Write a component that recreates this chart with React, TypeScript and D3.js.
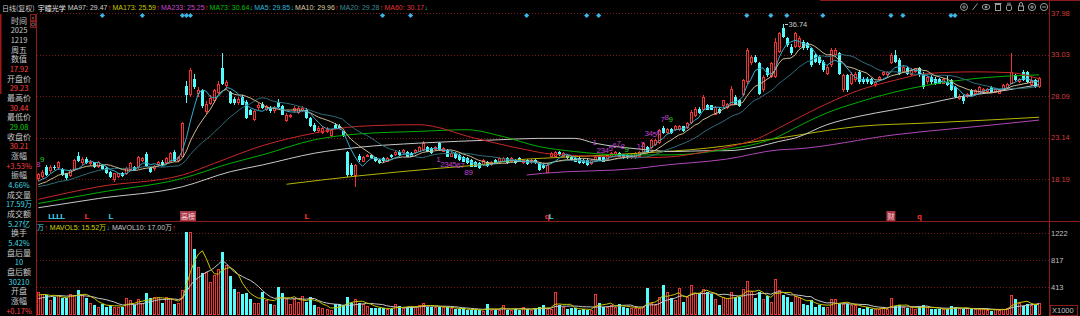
import React, { useEffect } from 'react';
import * as d3 from 'd3';

// ---------------- DATA ----------------
const opens = [
  18.2,18.5,19.7,19.2,19.7,19.5,19.4,18.9,18.6,19.3,
  21.0,20.1,20.6,20.0,20.2,19.6,19.9,19.5,19.1,18.1,
  18.5,18.9,18.8,19.3,19.7,19.5,20.4,21.2,19.5,19.4,
  19.9,20.3,20.1,20.3,21.5,20.4,20.9,29.3,28.2,30.2,
  28.3,28.8,26.2,27.2,27.5,28.5,31.4,29.3,28.6,27.8,
  27.3,28.0,27.4,26.4,25.3,26.7,27.2,26.5,26.7,26.3,
  27.4,26.9,25.1,25.6,26.3,26.1,26.3,26.5,25.5,24.7,
  23.9,23.7,23.8,23.3,24.7,24.6,23.9,21.5,19.9,18.6,
  21.0,20.3,20.9,21.1,20.8,20.5,20.7,20.3,21.1,21.1,
  21.5,21.3,21.5,21.3,21.3,21.5,21.7,22.1,21.9,21.7,
  22.5,21.5,21.7,20.9,21.3,21.1,20.9,20.7,20.5,20.3,
  20.1,19.9,20.3,19.9,20.5,20.3,20.3,20.7,20.3,20.5,
  20.7,20.1,20.5,20.1,20.5,20.1,19.9,19.0,20.9,20.9,
  21.5,20.9,21.1,20.9,20.7,20.7,20.5,20.5,20.0,20.3,
  20.9,20.9,20.5,20.9,21.1,21.3,21.1,21.1,20.7,20.7,
  20.9,21.3,22.1,21.9,22.3,22.5,24.3,23.7,24.2,24.1,
  24.1,24.5,24.3,24.9,25.7,26.6,26.4,27.0,27.0,25.9,
  26.6,26.9,26.7,27.1,28.0,27.6,28.2,29.8,32.0,32.8,
  32.0,28.8,31.4,30.4,30.4,33.4,36.2,35.0,34.0,34.0,
  34.0,34.6,34.4,33.8,33.0,32.8,32.2,30.8,31.8,33.0,
  33.2,28.8,30.6,29.6,30.0,31.0,30.2,30.2,30.2,29.4,
  30.0,30.6,30.6,32.0,33.0,32.4,31.0,31.4,30.6,31.0,
  31.4,30.8,29.8,30.4,30.2,30.2,29.6,29.8,30.0,29.2,
  27.8,28.0,28.0,28.8,28.4,28.4,28.6,28.6,29.2,28.6,
  28.4,28.8,29.0,29.6,30.6,29.8,31.0,31.0,29.4,30.0,29.23,
];
const highs = [
  19.0,19.3,19.9,19.9,19.9,20.4,19.5,19.0,19.4,20.6,
  21.4,20.8,20.9,20.5,20.3,20.4,20.0,19.6,19.2,19.0,
  19.0,19.1,19.6,20.2,19.8,21.0,20.9,21.5,19.7,19.9,
  20.4,20.5,20.8,21.4,21.7,21.0,25.0,29.9,31.5,30.8,
  29.2,29.0,27.5,28.2,29.0,29.9,33.2,30.0,28.7,28.0,
  28.0,28.2,27.6,26.6,26.5,27.3,27.4,27.1,26.9,26.9,
  27.8,27.0,26.1,26.0,26.9,26.9,26.9,26.7,25.6,24.9,
  24.5,24.5,24.4,24.2,24.9,24.8,24.0,21.6,20.1,20.0,
  21.2,21.0,21.2,21.2,20.9,20.6,20.8,20.8,21.2,21.6,
  21.7,21.8,21.6,21.4,21.8,22.2,22.7,22.2,22.0,22.2,
  22.6,22.0,21.8,21.4,21.4,21.2,21.0,20.8,20.6,20.4,
  20.2,20.6,20.4,20.4,20.6,20.8,20.8,20.8,20.8,20.6,
  20.8,20.6,20.6,20.6,20.6,20.2,20.0,20.0,21.4,21.6,
  21.6,21.4,21.2,21.0,20.8,20.8,20.6,20.6,20.6,21.0,
  21.0,21.0,21.2,21.4,21.6,21.4,21.2,21.2,21.2,21.4,
  21.6,22.6,22.2,23.0,23.0,24.2,24.5,24.3,24.3,24.7,
  24.7,24.6,25.0,26.4,26.8,26.8,28.2,27.2,27.1,26.9,
  26.8,27.7,27.3,29.3,28.2,27.8,30.2,33.8,33.0,33.0,
  32.2,30.6,31.6,32.2,35.0,35.8,36.74,35.2,34.3,35.8,
  35.3,34.8,34.6,34.0,33.2,33.0,32.4,31.8,33.8,33.8,
  33.4,30.8,30.8,31.0,31.0,31.2,30.4,30.4,30.3,29.9,
  30.5,31.1,31.1,33.2,33.6,32.6,31.8,31.6,31.4,31.5,
  31.6,31.0,30.5,30.6,30.4,30.3,30.3,30.6,30.2,29.3,
  28.3,28.2,28.5,29.0,28.9,29.3,29.1,29.1,29.3,29.1,
  28.9,29.5,29.7,33.2,30.8,30.3,31.2,31.1,30.5,30.1,30.44,
];
const lows = [
  18.0,18.3,18.6,19.0,19.3,19.3,18.6,18.1,18.5,19.2,
  20.2,19.9,20.0,19.8,19.5,19.5,19.3,18.8,18.4,17.9,
  18.3,18.5,18.7,19.2,19.2,19.4,20.2,19.6,18.9,19.2,
  19.7,19.8,20.0,20.2,20.3,20.3,20.8,27.3,28.0,29.0,
  28.0,26.7,26.0,27.0,27.3,28.3,29.4,29.0,27.2,27.1,
  27.1,27.0,25.4,25.8,25.1,26.5,26.6,26.3,26.1,26.1,
  26.7,25.8,25.0,25.5,26.1,26.0,26.2,25.4,24.4,23.8,
  23.7,23.6,23.7,23.2,24.2,24.2,23.2,18.5,18.6,17.3,
  20.2,20.2,20.8,20.6,20.3,20.0,20.3,20.2,20.7,21.0,
  21.0,21.2,20.8,20.8,21.2,21.4,21.6,21.4,21.2,21.6,
  21.6,21.4,20.8,20.8,20.6,20.4,20.2,20.0,19.6,19.6,
  19.4,19.8,19.7,19.8,20.0,20.2,20.2,20.0,20.2,20.0,
  20.2,20.0,19.9,20.0,20.0,19.2,19.4,18.9,20.8,20.8,
  21.0,20.8,20.6,20.4,20.2,20.0,20.0,19.8,19.9,20.2,
  20.4,20.2,20.4,20.8,21.0,20.8,20.6,20.6,20.6,20.6,
  20.8,21.2,21.4,21.8,22.2,22.4,23.6,23.6,23.6,24.0,
  24.0,23.8,24.2,24.8,25.6,26.0,26.3,26.4,26.4,25.8,
  26.0,26.8,26.6,27.0,27.0,26.8,28.1,29.6,31.8,32.1,
  28.2,28.6,30.4,30.3,30.3,33.2,35.0,34.0,33.0,33.9,
  33.8,33.6,33.6,31.6,32.0,31.8,31.0,30.6,31.6,32.8,
  30.6,28.6,28.6,29.4,29.8,29.6,29.6,29.6,29.4,29.2,
  29.9,30.5,30.5,31.9,32.0,30.6,30.9,30.6,30.5,30.9,
  30.4,29.0,29.6,29.6,29.4,29.5,29.5,29.3,28.7,27.9,
  27.6,27.2,27.9,28.1,28.3,28.3,28.5,28.5,28.5,28.5,
  28.3,28.7,28.9,29.5,29.9,29.7,29.9,29.7,29.3,29.1,29.08,
];
const closes = [
  18.8,19.1,18.7,19.7,19.5,20.2,18.7,18.3,19.3,20.5,
  20.4,20.6,20.1,20.3,19.6,20.3,19.4,18.9,18.5,18.9,
  18.9,18.6,19.5,20.1,19.3,20.9,20.7,19.7,19.1,19.8,
  20.3,19.9,20.7,21.3,20.4,20.9,24.9,28.2,31.2,29.2,
  28.8,26.9,27.2,27.9,28.8,29.6,29.6,29.8,27.3,27.3,
  27.8,27.1,25.5,25.9,26.3,27.1,26.7,26.9,26.3,26.7,
  26.8,25.9,25.9,25.8,26.7,26.7,26.7,25.5,24.5,23.9,
  24.3,24.3,24.2,24.1,24.3,24.3,23.3,18.7,18.7,19.9,
  20.5,20.9,21.1,20.7,20.4,20.1,20.4,20.7,20.8,21.5,
  21.1,21.7,20.9,20.9,21.7,22.1,22.5,21.5,21.3,22.1,
  21.7,21.9,20.9,21.3,20.7,20.5,20.3,20.1,19.7,19.7,
  19.5,20.5,19.8,20.3,20.1,20.7,20.7,20.1,20.7,20.1,
  20.3,20.5,20.0,20.5,20.1,19.3,19.5,19.9,21.3,21.5,
  21.1,21.3,20.7,20.5,20.3,20.1,20.1,19.9,20.5,20.9,
  20.5,20.3,21.1,21.3,21.5,20.9,20.7,20.7,21.1,21.3,
  21.5,22.5,21.5,22.9,22.9,24.1,23.7,24.2,23.7,24.6,
  24.6,23.9,24.9,26.2,26.6,26.1,28.0,26.5,26.5,26.8,
  26.1,27.6,27.2,29.0,27.1,26.9,30.0,33.6,32.8,32.2,
  28.4,30.4,30.6,32.0,34.6,35.6,35.2,34.2,33.2,35.6,
  35.0,33.8,33.8,31.8,32.2,32.0,31.2,31.6,33.6,33.6,
  30.8,30.6,28.8,30.8,30.8,29.8,29.8,29.8,29.6,29.8,
  30.4,31.0,31.0,33.0,32.2,30.8,31.6,30.8,31.2,31.4,
  30.6,29.2,30.4,29.8,29.6,29.6,30.2,29.4,28.8,28.0,
  28.1,27.5,28.4,28.2,28.8,29.2,29.0,29.0,28.6,29.0,
  28.8,29.4,29.6,31.0,30.0,30.2,30.0,29.8,30.05,29.18,30.21,
];
// volume in thousands of shares
const volumes = [
  347,320,298,224,273,298,249,249,320,298,
  372,298,249,174,150,124,164,124,149,124,
  124,124,248,224,149,233,174,323,248,273,
  263,174,273,248,164,174,372,1240,1235,978,
  710,621,646,497,596,681,944,745,581,382,
  348,313,333,233,184,184,348,224,164,149,
  412,323,233,164,233,199,283,199,263,149,
  114,99,85,75,159,159,149,263,184,233,
  184,164,134,99,99,99,99,85,85,159,
  134,99,124,124,134,149,174,124,124,124,
  124,114,114,99,85,85,99,75,75,75,
  75,65,159,75,75,75,149,75,75,85,
  75,124,85,75,99,114,149,85,95,348,
  149,114,85,99,99,75,85,75,75,313,
  174,124,124,149,124,159,124,99,99,99,
  99,124,397,184,149,263,447,348,248,224,
  397,199,273,447,333,333,387,348,313,233,
  149,273,248,348,263,263,387,512,353,248,
  348,233,283,199,532,373,298,273,199,283,
  263,164,149,224,124,149,114,124,233,233,
  164,164,164,149,149,99,85,114,85,85,
  85,124,85,248,134,149,114,99,114,85,
  114,149,124,85,85,85,85,85,134,124,
  99,85,99,85,85,85,85,75,65,85,
  75,95,100,305,240,184,140,160,150,150,176,
];
// closes / volumes just before the visible window (for the short moving averages)
const prevCloses = [17.0,17.2,16.9,17.1,17.3,17.0,16.8,17.1,17.2,17.0,17.3,17.1,16.9,17.2,17.4,17.6,17.8,17.5,17.9];
const prevVolumes = [180,200,170,190,210,280,300,290,270];

// long moving averages: [bar index, value]
const ma60Pts: [number, number][] = [[0,15.8],[15,17.3],[36,18.7],[44,20.1],[56,22.2],[69,23.7],[80,24.5],[95,24.7],[109,23.1],[122,21.7],[128,21.2],[142,20.9],[155,20.8],[167,21.5],[172,22.0],[180,23.1],[185,24.3],[189,25.3],[197,27.2],[205,28.8],[214,30.0],[222,30.8],[234,31.0],[243,30.9],[250,30.17]];
const ma73Pts: [number, number][] = [[0,15.3],[15,16.6],[36,18.3],[48,20.1],[56,21.1],[69,22.9],[80,23.6],[95,23.9],[107,24.1],[116,23.3],[125,22.1],[134,21.5],[146,21.1],[158,21.1],[171,21.7],[180,22.5],[185,23.3],[189,24.3],[197,26.1],[205,27.4],[214,28.6],[222,29.4],[234,30.2],[250,30.64]];
const ma97Pts: [number, number][] = [[0,14.8],[15,15.9],[36,17.3],[48,19.1],[56,19.9],[69,21.3],[80,22.0],[95,22.5],[115,22.9],[125,23.07],[134,23.07],[139,22.5],[150,21.8],[159,21.5],[167,21.6],[172,21.6],[180,22.1],[185,22.7],[189,23.1],[197,24.7],[205,25.7],[214,26.5],[222,27.2],[230,28.0],[239,28.6],[250,29.47]];
const ma173Pts: [number, number][] = [[62,17.6],[80,18.6],[100,19.5],[110,19.9],[122,20.6],[126,20.7],[150,21.3],[167,21.9],[185,23.1],[205,24.5],[222,24.9],[239,25.3],[250,25.59]];
const ma233Pts: [number, number][] = [[122,18.7],[126,18.9],[150,19.5],[155,19.8],[172,20.6],[185,21.7],[189,21.8],[214,23.5],[239,24.7],[250,25.25]];

const priceTicks = [37.98, 33.03, 28.09, 23.14, 18.19];
const volTicks = [1222, 817, 413];

const legendNames = ['MA97', 'MA173', 'MA233', 'MA73', 'MA5', 'MA10', 'MA20', 'MA60'];
const legendValues = ['29.47', '25.59', '25.25', '30.64', '29.85', '29.96', '29.28', '30.17'];
const legendRising = [true, true, true, false, false, true, true, false];

const infoTexts = ['时间','2025','1219','周五','数值','17.92','开盘价','29.23','最高价','30.44','最低价','29.08','收盘价','30.21','涨幅','+3.53%','振幅','4.66%','成交量','17.59万','成交额','5.27亿','换手','5.42%','盘后量','10','盘后额','30210','开盘','涨幅','+0.17%'];
const infoKinds = ['l','l','l','l','l','r','l','r','l','r','l','g','l','r','l','r','l','c','l','c','l','c','l','c','l','c','l','c','l','l','r'];

// TD-sequence counts: bar index, price level, text, is-nine
const tdIdx = [0,1, 100,101,102,103,104,105,106,107,108, 139,140,141,142,143,144,145,146,147, 150,151,152,153,154,155,156,157,158];
const tdPrice = [19.9,20.6, 20.6,19.9,19.9,19.9,19.9,19.8,19.8,19.0,19.0, 22.6,21.6,21.6,21.6,21.9,22.2,22.4,22.1,21.8, 22.1,22.3,23.7,23.6,23.5,23.8,25.3,25.6,25.3];
const tdText = ['8','9', '1','2','3','4','5','6','7','8','9', '1','2','3','4','5','6','7','8','9', '1','2','3','4','5','6','7','8','9'];
const tdNine = [false,true, false,false,false,false,false,false,false,false,false, false,false,false,false,false,false,false,false,true, false,false,false,false,false,false,false,false,true];

// signal letters under price panel
const sigIdx = [3,4,5,6,12,18,67,127,128,220];
const sigText = ['L','L','L','L','L','L','L','q','L','q'];
const sigRed = [false,false,false,false,true,false,true,true,false,true];
const boxIdx = [37.4, 213];
const boxText = ['高榜', '财'];

const diamondIdx = [16,26,36,37,38,86,93,122,137,140,177,183,187,196,213,216,228,229];
const highMarkIdx = 186;

const volLegend = ['万', 'MAVOL5: 15.52万', 'MAVOL10: 17.00万'];
const volLegendRising = [true, false, true];

// ---------------- STYLE ----------------
const FONT = '"Liberation Sans", "Noto Sans CJK SC", sans-serif';
const CJK = '"Noto Sans CJK SC", "Liberation Sans", sans-serif';
const UP = '#f03434';
const DOWN = '#54fcfc';
const FRAME = '#8c1c1c';
const GRID = '#7a1818';
const RISE = '#ff3030';
const FALL = '#20c8a8';
const legendColors = ['#d0d0d0', '#c8c800', '#c848c8', '#00c000', '#34b8dc', '#dccca0', '#3f8a94', '#e03434'];
const infoColors: Record<string, string> = { l: '#c8c8c8', r: '#ff4040', g: '#10d010', c: '#40d8e0' };

let _ctx: CanvasRenderingContext2D | null = null;
function textW(t: string, size: number, fam: string) {
  if (!_ctx) _ctx = document.createElement('canvas').getContext('2d');
  _ctx!.font = `${size}px ${fam}`;
  return _ctx!.measureText(t).width;
}

export default function App() {
  useEffect(() => {
    document.body.style.margin = '0';
    document.body.style.background = '#000';
  }, []);

  const n = closes.length;
  const x = d3.scaleLinear().domain([0, n - 1]).range([38.3, 1039]);
  const yP = d3.scaleLinear().domain([18.19, 37.98]).range([179.3, 13.3]);
  const yV = d3.scaleLinear().domain([0, 1222]).range([315, 233]);

  const allC = prevCloses.concat(closes);
  const off = prevCloses.length;
  const maOf = (p: number) => closes.map((_, i) => d3.mean(allC.slice(i + off - p + 1, i + off + 1)) as number);
  const ma5 = maOf(5), ma10 = maOf(10), ma20 = maOf(20);
  const allV = prevVolumes.concat(volumes);
  const voff = prevVolumes.length;
  const mavOf = (p: number) => volumes.map((_, i) => d3.mean(allV.slice(i + voff - p + 1, i + voff + 1)) as number);
  const mav5 = mavOf(5), mav10 = mavOf(10);

  const lineIdx = d3.line<number>().x((_, i) => x(i)).y((d) => yP(d));
  const linePts = d3.line<[number, number]>().x((d) => x(d[0])).y((d) => yP(d[1])).curve(d3.curveMonotoneX);
  const lineVol = d3.line<number>().x((_, i) => x(i)).y((d) => yV(d));

  // candles
  const candles = closes.map((c, i) => {
    const o = opens[i], h = highs[i], l = lows[i];
    const up = c >= o;
    const cx = Math.round(x(i));
    const yTop = Math.round(yP(Math.max(o, c)));
    const yBot = Math.round(yP(Math.min(o, c)));
    const yH = Math.round(yP(h)), yL = Math.round(yP(l));
    const col = up ? UP : DOWN;
    const hgt = yBot - yTop;
    return (
      <g key={i}>
        {yH < yTop && <line x1={cx + 0.5} x2={cx + 0.5} y1={yH} y2={yTop} stroke={col} strokeWidth={1} />}
        {yL > yBot && <line x1={cx + 0.5} x2={cx + 0.5} y1={yBot} y2={yL} stroke={col} strokeWidth={1} />}
        {up && hgt >= 3 ? (
          <rect x={cx - 0.5} y={yTop + 0.5} width={2} height={hgt - 1} fill="#000" stroke={col} strokeWidth={1} />
        ) : (
          <rect x={cx - 1} y={yTop} width={3} height={Math.max(hgt, 1)} fill={col} />
        )}
      </g>
    );
  });

  const volBars = volumes.map((v, i) => {
    const up = closes[i] >= opens[i];
    const cx = Math.round(x(i));
    const top = Math.round(yV(v));
    const col = up ? UP : DOWN;
    return up ? (
      <rect key={i} x={cx - 0.5} y={top + 0.5} width={2} height={Math.max(315 - top - 1, 0)} fill="#000" stroke={col} strokeWidth={1} />
    ) : (
      <rect key={i} x={cx - 1} y={top} width={3} height={315 - top} fill={col} />
    );
  });

  // header legend
  const header: JSX.Element[] = [];
  let lx = 2;
  const hs = 7;
  const addH = (t: string, col: string, size: number, fam: string, gap: number) => {
    header.push(<text key={header.length} x={lx} y={7.5} fill={col} fontSize={size} fontFamily={fam} dominantBaseline="central">{t}</text>);
    lx += textW(t, size, fam) + gap;
  };
  addH('日线(复权)', '#c8c8c8', 7, CJK, 3);
  addH('宇瞳光学', '#e8e8e8', 7, CJK, 2);
  legendNames.forEach((nm, k) => {
    addH(`${nm}: ${legendValues[k]}`, legendColors[k], hs, FONT, 0.3);
    addH(legendRising[k] ? '↑' : '↓', legendRising[k] ? RISE : FALL, hs, FONT, 1.2);
  });

  // volume legend
  const vleg: JSX.Element[] = [];
  let vx = 37;
  const vcols = ['#40d8e0', '#d4d400', '#c8c8c8'];
  volLegend.forEach((t, k) => {
    vleg.push(<text key={`t${k}`} x={vx} y={227.5} fill={vcols[k]} fontSize={7} fontFamily={FONT} dominantBaseline="central">{t}</text>);
    vx += textW(t, 7, FONT) + 0.3;
    vleg.push(<text key={`a${k}`} x={vx} y={227.5} fill={volLegendRising[k] ? RISE : FALL} fontSize={7} fontFamily={FONT} dominantBaseline="central">{volLegendRising[k] ? '↑' : '↓'}</text>);
    vx += textW('↑', 7, FONT) + 2;
  });

  const hiX = Math.round(x(highMarkIdx));
  const hiY = Math.round(yP(highs[highMarkIdx])) + 0.5;

  const iconXs = [964, 975, 986, 998, 1009, 1021, 1032, 1044];

  return (
    <svg width={1080} height={316} style={{ position: 'fixed', left: 0, top: 0, display: 'block', background: '#000' }}>
      <defs>
        <clipPath id="pclip"><rect x={37} y={14} width={1012} height={207} /></clipPath>
        <clipPath id="vclip"><rect x={37} y={222} width={1012} height={94} /></clipPath>
      </defs>
      <rect x={0} y={0} width={1080} height={316} fill="#000" />

      {/* grid */}
      {priceTicks.map((t) => (
        <line key={t} x1={37} x2={1049} y1={Math.round(yP(t)) + 0.5} y2={Math.round(yP(t)) + 0.5} stroke={GRID} strokeDasharray="1 2" />
      ))}
      {volTicks.map((t) => (
        <line key={t} x1={37} x2={1049} y1={Math.round(yV(t)) + 0.5} y2={Math.round(yV(t)) + 0.5} stroke={GRID} strokeDasharray="1 2" />
      ))}

      {/* frame */}
      <line x1={36.5} x2={36.5} y1={14} y2={316} stroke={FRAME} />
      <line x1={1049.5} x2={1049.5} y1={0} y2={316} stroke={FRAME} />
      <line x1={36} x2={1080} y1={221.5} y2={221.5} stroke={FRAME} />
      <line x1={820} x2={1080} y1={0.5} y2={0.5} stroke={FRAME} />
      <rect x={0} y={14} width={1.5} height={80} fill="#a01818" />
      <rect x={30.5} y={14.5} width={5} height={6} fill="none" stroke={FRAME} />
      <rect x={30.5} y={21.5} width={5} height={6} fill="none" stroke={FRAME} />
      <text x={33} y={17.5} fill="#909090" fontSize={5} textAnchor="middle" dominantBaseline="central" fontFamily={FONT}>×</text>
      <circle cx={33} cy={24.5} r={1.6} fill="none" stroke="#909090" strokeWidth={0.7} />

      {/* price panel */}
      <g clipPath="url(#pclip)">
        {candles}
        <path d={linePts(ma233Pts) || ''} fill="none" stroke="#b048b8" strokeWidth={1} />
        <path d={linePts(ma173Pts) || ''} fill="none" stroke="#b4b400" strokeWidth={1} />
        <path d={linePts(ma97Pts) || ''} fill="none" stroke="#c8c8c8" strokeWidth={1} />
        <path d={linePts(ma73Pts) || ''} fill="none" stroke="#00b000" strokeWidth={1} />
        <path d={linePts(ma60Pts) || ''} fill="none" stroke="#c82828" strokeWidth={1} />
        <path d={lineIdx(ma20) || ''} fill="none" stroke="#2f6f7a" strokeWidth={1} />
        <path d={lineIdx(ma10) || ''} fill="none" stroke="#cdbb90" strokeWidth={1} />
        <path d={lineIdx(ma5) || ''} fill="none" stroke="#34aed0" strokeWidth={1} />

        {tdIdx.map((ix, k) => (
          <text key={k} x={x(ix)} y={yP(tdPrice[k])} fill={tdNine[k] ? '#20d020' : '#c040d0'} fontSize={8} fontFamily={FONT} textAnchor="middle" dominantBaseline="central">{tdText[k]}</text>
        ))}

        <line x1={hiX + 2} x2={hiX + 5} y1={hiY} y2={hiY} stroke="#c8c8c8" />
        <text x={hiX + 5.5} y={hiY} fill="#c8c8c8" fontSize={7.5} fontFamily={FONT} dominantBaseline="central">{highs[highMarkIdx].toFixed(2)}</text>

        {sigIdx.map((ix, k) => (
          <text key={k} x={x(ix) + 0.5} y={216} fill={sigRed[k] ? '#ff3030' : '#40d0e8'} fontSize={8} fontWeight="bold" fontFamily={FONT} textAnchor="middle" dominantBaseline="central">{sigText[k]}</text>
        ))}
        {boxIdx.map((ix, k) => {
          const w = textW(boxText[k], 7, CJK) + 2;
          return (
            <g key={k}>
              <rect x={x(ix) - w / 2} y={211} width={w} height={10} fill="#a83848" />
              <text x={x(ix)} y={216} fill="#f4d4d4" fontSize={7} fontFamily={CJK} textAnchor="middle" dominantBaseline="central">{boxText[k]}</text>
            </g>
          );
        })}
      </g>

      {/* diamonds */}
      {diamondIdx.map((ix, k) => {
        const cx = x(ix), cy = 15.5;
        return <path key={k} d={`M${cx},${cy - 2.6}L${cx + 2.6},${cy}L${cx},${cy + 2.6}L${cx - 2.6},${cy}Z`} fill="#3cb4e6" />;
      })}

      {/* volume panel */}
      <g clipPath="url(#vclip)">
        {volBars}
        <path d={lineVol(mav10) || ''} fill="none" stroke="#c8c8c8" strokeWidth={1} />
        <path d={lineVol(mav5) || ''} fill="none" stroke="#c8c800" strokeWidth={1} />
      </g>
      {vleg}

      {/* header */}
      {header}

      {/* toolbar icons */}
      <g stroke="#9a9a9a" fill="none" strokeWidth={1}>
        <circle cx={iconXs[0]} cy={7} r={3.5} />
        <circle cx={iconXs[0]} cy={7} r={1.2} />
        <line x1={iconXs[1] - 2.5} y1={10} x2={iconXs[1] + 2.5} y2={3.5} />
        <ellipse cx={iconXs[2]} cy={7} rx={3.8} ry={2.6} />
        <circle cx={iconXs[2]} cy={7} r={1} fill="#9a9a9a" />
        <rect x={iconXs[3] - 2.5} y={4.5} width={5} height={6} />
        <line x1={iconXs[3] - 3.5} x2={iconXs[3] + 3.5} y1={3.5} y2={3.5} />
        <rect x={iconXs[4] - 2.5} y={5} width={5} height={5.5} rx={1.5} />
        <line x1={iconXs[4] - 1} x2={iconXs[4] - 1} y1={2.5} y2={5} />
        <line x1={iconXs[4] + 1} x2={iconXs[4] + 1} y1={2.5} y2={5} />
        <rect x={iconXs[5] - 2.5} y={6} width={5} height={4.5} />
        <path d={`M${iconXs[5] - 1.5},6 V4 a1.5,1.5 0 0 1 3,0 V6`} />
        <circle cx={iconXs[6]} cy={7} r={3.6} />
        <line x1={iconXs[6] - 2} x2={iconXs[6] + 2} y1={7} y2={7} />
        <line x1={iconXs[6]} x2={iconXs[6]} y1={5} y2={9} />
        <circle cx={iconXs[7]} cy={7} r={3.6} />
        <line x1={iconXs[7] - 2} x2={iconXs[7] + 2} y1={7} y2={7} />
      </g>

      {/* right axis */}
      {priceTicks.map((t) => (
        <text key={t} x={1051} y={yP(t)} fill="#d03c3c" fontSize={7.5} fontFamily={FONT} dominantBaseline="central">{t.toFixed(2)}</text>
      ))}
      {volTicks.map((t) => (
        <text key={t} x={1051} y={yV(t)} fill="#c0c0c0" fontSize={7.5} fontFamily={FONT} dominantBaseline="central">{t}</text>
      ))}
      <rect x={1050.5} y={305.5} width={27} height={10} fill="none" stroke={FRAME} />
      <text x={1052} y={310.5} fill="#c0c0c0" fontSize={7.5} fontFamily={FONT} dominantBaseline="central">X1000</text>

      {/* left info panel */}
      {infoTexts.map((t, k) => (
        <text key={k} x={19} y={20 + 9.67 * k} fill={infoColors[infoKinds[k]]} fontSize={/[\u4e00-\u9fff]/.test(t) && !/[0-9]/.test(t) ? 8 : 7.5} fontFamily={CJK} textAnchor="middle" dominantBaseline="central">{t}</text>
      ))}
    </svg>
  );
}
